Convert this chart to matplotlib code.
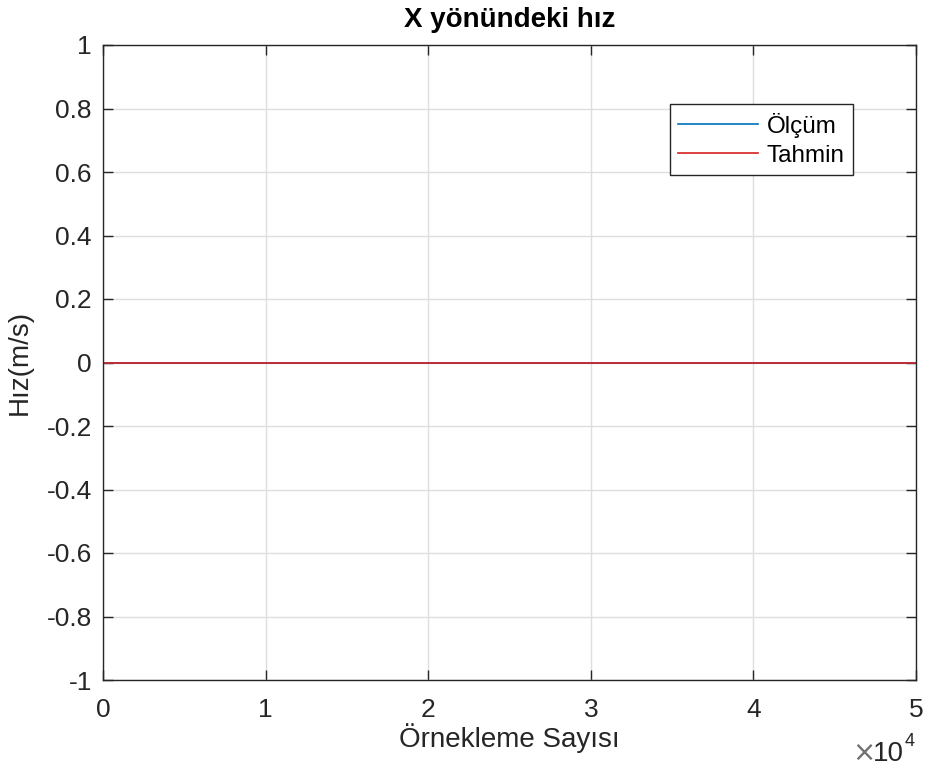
import matplotlib
matplotlib.use("Agg")
import matplotlib.pyplot as plt

plt.rcParams['font.family'] = ['Liberation Sans', 'DejaVu Sans']

# Örnekleme sayısı ve hız değerleri
ornek = [0, 50000]
olcum = [0.0, 0.0]
tahmin = [0.0, 0.0]

x_ticks = [0, 10000, 20000, 30000, 40000, 50000]
x_tick_labels = ['0', '1', '2', '3', '4', '5']
y_ticks = [-1, -0.8, -0.6, -0.4, -0.2, 0, 0.2, 0.4, 0.6, 0.8, 1]
y_tick_labels = ['-1', '-0.8', '-0.6', '-0.4', '-0.2', '0', '0.2', '0.4', '0.6', '0.8', '1']

fig = plt.figure(figsize=(9.28, 7.69), dpi=100)
ax = fig.add_axes([103/928, 1-680/769, (916-103)/928, (680-45)/769])

ax.plot(ornek, olcum, color='#0072BD', lw=1.2, label='Ölçüm')
ax.plot(ornek, tahmin, color='#D62020', lw=1.2, label='Tahmin')

ax.set_xlim(0, 50000)
ax.set_ylim(-1, 1)
ax.set_xticks(x_ticks)
ax.set_xticklabels(x_tick_labels)
ax.set_yticks(y_ticks)
ax.set_yticklabels(y_tick_labels)

ax.grid(True, color='#dedede', lw=1.0)
ax.set_axisbelow(True)
for s in ax.spines.values():
    s.set_color('#262626')
    s.set_linewidth(1.0)
ax.tick_params(direction='in', length=7, width=1, colors='#262626',
               labelsize=19, top=True, right=True)
ax.tick_params(axis='y', pad=8)
ax.tick_params(axis='x', pad=13)
for lbl in ax.get_xticklabels() + ax.get_yticklabels():
    lbl.set_color('#262626')

ax.set_title('X yönündeki hız', fontsize=20, fontweight='bold', color='black', pad=13)
ax.set_xlabel('Örnekleme Sayısı', fontsize=20, color='#262626', labelpad=1)
ax.set_ylabel('Hız(m/s)', fontsize=20, color='#262626', labelpad=10)

# x ekseni çarpanı
fig.text(875/928, 1-753/769, '×', fontsize=20, color='#707070',
         ha='right', va='center', family='DejaVu Sans')
fig.text(904/928, 1-754/769, '10', fontsize=20, color='#262626',
         ha='right', va='center')
fig.text(905/928, 1-742/769, '4', fontsize=13, color='#262626',
         ha='left', va='center')

leg = ax.legend(loc='upper right', bbox_to_anchor=((853-103)/813, 1-(104-45)/635),
                fontsize=17.5, frameon=True, fancybox=False, framealpha=1,
                edgecolor='#262626', handlelength=3.3, handletextpad=0.33,
                borderpad=0.35, labelspacing=0.29, borderaxespad=0)
leg.get_frame().set_linewidth(1.0)

fig.savefig('out.png', dpi=100)
